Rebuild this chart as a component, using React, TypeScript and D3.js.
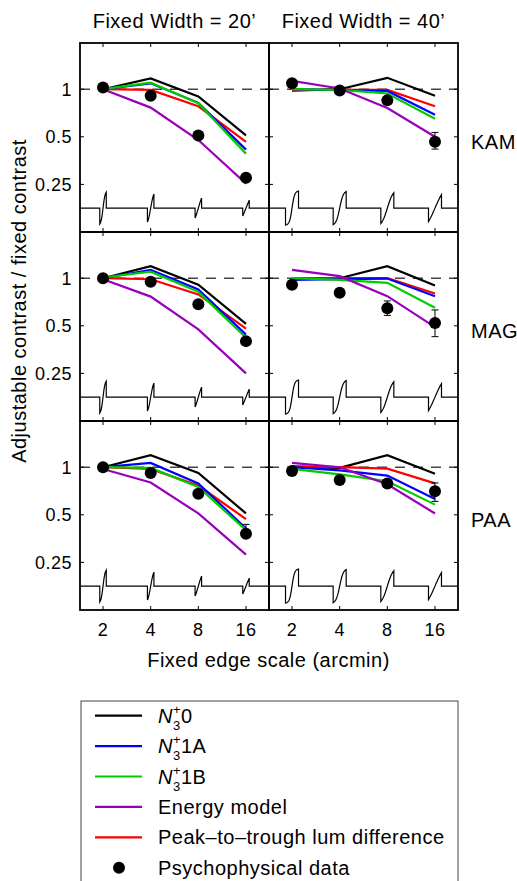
import React from 'react';
import * as d3 from 'd3';

// x: edge scale (arcmin), panels ordered KAM 20', KAM 40', MAG 20', MAG 40', PAA 20', PAA 40'
const edgeScales = [2, 4, 8, 16];
const fixedWidths = [20, 40];
const columnTitles = ['Fixed Width = 20\u2019', 'Fixed Width = 40\u2019'];
const observers = ['KAM', 'MAG', 'PAA'];
const yTicks = [0.25, 0.5, 1];

const modelN0 = [
  [1.0, 1.17, 0.9, 0.51], [0.98, 1.0, 1.18, 0.91],
  [1.0, 1.19, 0.91, 0.515], [1.0, 1.0, 1.19, 0.9],
  [1.0, 1.19, 0.92, 0.51], [1.0, 0.99, 1.19, 0.91],
];
const modelN1A = [
  [1.0, 1.09, 0.82, 0.415], [1.0, 0.985, 0.975, 0.69],
  [1.0, 1.13, 0.85, 0.44], [0.975, 0.985, 0.995, 0.77],
  [1.0, 1.065, 0.79, 0.41], [1.0, 0.955, 0.885, 0.63],
];
const modelN1B = [
  [1.0, 1.1, 0.815, 0.39], [1.0, 0.99, 0.94, 0.65],
  [1.01, 1.1, 0.82, 0.42], [1.0, 0.975, 0.935, 0.65],
  [1.0, 0.99, 0.75, 0.4], [0.975, 0.9, 0.815, 0.58],
];
const energyModel = [
  [1.0, 0.765, 0.477, 0.253], [1.13, 1.01, 0.76, 0.5],
  [0.985, 0.765, 0.475, 0.25], [1.13, 1.03, 0.77, 0.49],
  [0.975, 0.8, 0.51, 0.28], [1.065, 1.0, 0.78, 0.51],
];
const peakToTrough = [
  [1.0, 0.99, 0.78, 0.465], [0.99, 0.99, 0.99, 0.78],
  [1.0, 0.985, 0.79, 0.48], [1.0, 1.0, 1.0, 0.8],
  [1.0, 0.975, 0.765, 0.47], [1.015, 1.0, 0.98, 0.79],
];
const psychData = [
  [1.025, 0.91, 0.51, 0.275], [1.09, 0.98, 0.85, 0.465],
  [1.0, 0.95, 0.685, 0.4], [0.91, 0.81, 0.645, 0.52],
  [1.0, 0.92, 0.68, 0.38], [0.945, 0.83, 0.79, 0.705],
];
const errLow: (number | null)[][] = [
  [null, null, null, null], [null, null, null, 0.418],
  [null, null, null, null], [null, null, 0.582, 0.427],
  [null, null, null, 0.36], [null, null, null, 0.608],
];
const errHigh: (number | null)[][] = [
  [null, null, null, null], [null, null, null, 0.533],
  [null, null, null, null], [null, null, 0.718, 0.63],
  [null, null, null, 0.435], [null, null, null, 0.795],
];

// stimulus profile glyphs (per column: amplitude px, steepness)
const glyphAmp = [[16, 14, 10, 8], [17, 16.5, 15.3, 13.5]];
const glyphSteep = [[1.5, 1.0, 0.6, 0.3], [2.5, 1.8, 1.1, 0.6]];
const glyphPxPerArcmin = 0.325;
const glyphBaseline = 0.177;

const legendItems = [
  { key: 'n0', label: '0', color: '#000000', n: true },
  { key: 'n1a', label: '1A', color: '#0000ff', n: true },
  { key: 'n1b', label: '1B', color: '#00cc00', n: true },
  { key: 'en', label: 'Energy model', color: '#9900bb', n: false },
  { key: 'pk', label: 'Peak\u2013to\u2013trough lum difference', color: '#ff0000', n: false },
];

const drawOrder = [
  { values: modelN0, color: '#000000' },
  { values: peakToTrough, color: '#ff0000' },
  { values: modelN1A, color: '#0000ff' },
  { values: modelN1B, color: '#00cc00' },
  { values: energyModel, color: '#9900bb' },
];

const font = 'Liberation Sans, Arial, Helvetica, sans-serif';
const left = 80;
const top = 43;
const size = 189;
const ls = 0.5;

const x = d3.scaleLog().base(2).domain([1.431, 22.36]).range([0, size]);
const y = d3.scaleLog().base(2).domain([0.125, 1.96]).range([size, 0]);

const line = d3
  .line<number>()
  .x((_, i) => x(edgeScales[i]))
  .y((d) => y(d));

function glyphPath(col: number) {
  const by = y(glyphBaseline);
  const hw = (fixedWidths[col] * glyphPxPerArcmin) / 2;
  const pts: [number, number][] = [[0, by]];
  edgeScales.forEach((s, i) => {
    const cx = x(s);
    const amp = glyphAmp[col][i];
    const k = glyphSteep[col][i];
    pts.push([cx - hw, by]);
    for (let j = 0; j <= 20; j++) {
      const t = -1 + (2 * j) / 20;
      pts.push([cx + t * hw, by - (amp * Math.tanh(k * t)) / Math.tanh(k)]);
    }
    pts.push([cx + hw, by]);
  });
  pts.push([size, by]);
  return d3.line()(pts) || '';
}

function Panel({ row, col }: { row: number; col: number }) {
  const p = row * 2 + col;
  const tx = left + col * size;
  const ty = top + row * size;
  const tl = 4;
  return (
    <g transform={`translate(${tx},${ty})`}>
      <line x1={0} x2={size} y1={y(1)} y2={y(1)} stroke="#444" strokeWidth={1.5} strokeDasharray="10,8" />
      <path d={glyphPath(col)} fill="none" stroke="#000" strokeWidth={1.2} />
      {drawOrder.map((m, i) => (
        <path key={i} d={line(m.values[p]) || ''} fill="none" stroke={m.color} strokeWidth={2.2} />
      ))}
      {psychData[p].map((v, i) => {
        const lo = errLow[p][i];
        const hi = errHigh[p][i];
        const cx = x(edgeScales[i]);
        return (
          <g key={i}>
            {lo !== null && hi !== null && (
              <g stroke="#000" strokeWidth={1}>
                <line x1={cx} x2={cx} y1={y(lo)} y2={y(hi)} />
                <line x1={cx - 3.5} x2={cx + 3.5} y1={y(lo)} y2={y(lo)} />
                <line x1={cx - 3.5} x2={cx + 3.5} y1={y(hi)} y2={y(hi)} />
              </g>
            )}
            <circle cx={cx} cy={y(v)} r={6} fill="#000" />
          </g>
        );
      })}
      {edgeScales.map((s) => (
        <g key={s} stroke="#000" strokeWidth={1}>
          <line x1={x(s)} x2={x(s)} y1={0} y2={tl} />
          <line x1={x(s)} x2={x(s)} y1={size} y2={size - tl} />
        </g>
      ))}
      {yTicks.map((v) => (
        <g key={v} stroke="#000" strokeWidth={1}>
          <line x1={0} x2={tl} y1={y(v)} y2={y(v)} />
          <line x1={size} x2={size - tl} y1={y(v)} y2={y(v)} />
        </g>
      ))}
      <rect x={0} y={0} width={size} height={size} fill="none" stroke="#000" strokeWidth={1.8} />
      {col === 0 &&
        yTicks.map((v) => (
          <text key={v} x={-8} y={y(v) + 6.5} textAnchor="end" fontSize={18} letterSpacing={ls}>
            {v}
          </text>
        ))}
      {row === 2 &&
        edgeScales.map((s) => (
          <text key={s} x={x(s)} y={size + 26} textAnchor="middle" fontSize={18} letterSpacing={ls}>
            {s}
          </text>
        ))}
      {col === 1 && (
        <text x={size + 13} y={y(0.5) + 12} fontSize={20} letterSpacing={ls}>
          {observers[row]}
        </text>
      )}
      {row === 0 && (
        <text x={size / 2} y={-14.7} textAnchor="middle" fontSize={20} letterSpacing={ls}>
          {columnTitles[col]}
        </text>
      )}
    </g>
  );
}

export default function App() {
  const legendX = 81;
  const legendY = 701;
  const rowGap = 30.4;
  return (
    <svg
      width={517}
      height={881}
      style={{ position: 'absolute', left: 0, top: 0, background: '#fff' }}
      fontFamily={font}
    >
      <rect x={0} y={0} width={517} height={881} fill="#fff" />
      {observers.map((_, row) =>
        fixedWidths.map((__, col) => <Panel key={`${row}-${col}`} row={row} col={col} />)
      )}
      <text transform="translate(25.5,301) rotate(-90)" textAnchor="middle" fontSize={20} letterSpacing={ls}>
        Adjustable contrast / fixed contrast
      </text>
      <text x={268.5} y={667} textAnchor="middle" fontSize={20} letterSpacing={ls}>
        Fixed edge scale (arcmin)
      </text>

      <rect x={legendX} y={legendY} width={377} height={220} fill="#fff" stroke="#444" strokeWidth={1} />
      {legendItems.map((it, i) => {
        const ly = legendY + 14.7 + i * rowGap;
        const base = ly + 7;
        return (
          <g key={it.key}>
            <line x1={95} x2={142} y1={ly} y2={ly} stroke={it.color} strokeWidth={2.2} />
            {it.n ? (
              <g>
                <text x={158} y={base} fontSize={20} fontStyle="italic">N</text>
                <text x={173} y={base - 9} fontSize={13}>+</text>
                <text x={173} y={base + 7} fontSize={13}>3</text>
                <text x={181} y={base} fontSize={20} letterSpacing={ls}>{it.label}</text>
              </g>
            ) : (
              <text x={158} y={base} fontSize={20} letterSpacing={ls}>{it.label}</text>
            )}
          </g>
        );
      })}
      <circle cx={119} cy={legendY + 14.7 + 5 * rowGap} r={6} fill="#000" />
      <text x={158} y={legendY + 14.7 + 5 * rowGap + 7} fontSize={20} letterSpacing={ls}>
        Psychophysical data
      </text>
    </svg>
  );
}
